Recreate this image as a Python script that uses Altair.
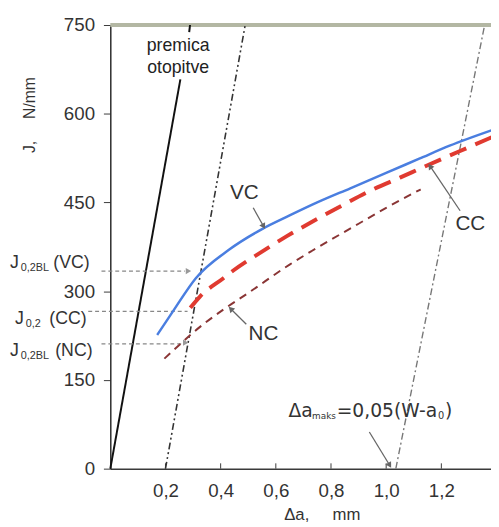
import altair as alt
import pandas as pd

# ---- data ----
vc_da = [0.17, 0.23, 0.31, 0.43, 0.55, 0.65, 0.75, 0.87, 1.00, 1.12, 1.23, 1.382]
vc_j = [226, 268, 322, 370, 405, 428, 450, 474, 500, 524, 546, 572]

cc_da = [0.29, 0.325, 0.41, 0.446, 0.55, 0.64, 0.73, 0.825, 0.957, 1.05, 1.136, 1.268, 1.382]
cc_j = [272, 291, 322, 335, 367, 393, 417, 441, 473, 492, 510, 537, 560]

nc_da = [0.196, 0.25, 0.30, 0.41, 0.50, 0.65, 0.73, 0.90, 1.00, 1.125]
nc_j = [186, 209, 230, 269, 297, 345, 368, 414, 441, 472]

blunt_da = [0.0, 0.254]
blunt_j = [0, 658]
blunt_top_da = [0.286, 0.289]
blunt_top_j = [738, 750]

excl_da = [0.2, 0.489]
excl_j = [0, 750]

max_da = [1.035, 1.357]
max_j = [0, 750]

x_ticks = [0.2, 0.4, 0.6, 0.8, 1.0, 1.2]
y_ticks = [0, 150, 300, 450, 600, 750]

FONT = "Liberation Sans"
WIDE = "DejaVu Sans"
NB = "\u00a0"

X = alt.X("x:Q", scale=alt.Scale(domain=[0, 1.38], nice=False, zero=False),
          axis=alt.Axis(values=x_ticks, grid=False, ticks=False, domainColor="#3a3a3a", domainWidth=1.5,
                        labelExpr="replace(format(datum.value, '.1f'), '.', ',')",
                        labelFont=FONT, labelFontSize=19, labelColor="#333333", labelPadding=13,
                        title="Δa," + NB * 5 + "mm", titleFont=FONT, titleFontSize=17, titleFontWeight="normal",
                        titleColor="#333333", titleX=215, titleY=47, titleAnchor="middle",
                        titleAlign="center", titleBaseline="middle"))
Y = alt.Y("y:Q", scale=alt.Scale(domain=[0, 750], nice=False),
          axis=alt.Axis(values=y_ticks, grid=False, tickSize=7, tickColor="#3a3a3a", domainColor="#2a2a2a",
                        domainWidth=1.5, labelFont=FONT, labelFontSize=19, labelColor="#333333",
                        labelPadding=9, title="J," + NB * 5 + "N/mm", titleFont=FONT, titleFontSize=16,
                        titleFontWeight="normal", titleColor="#333333", titleAngle=-90,
                        titleX=-82, titleY=91, titleAlign="center", titleBaseline="middle"))


def df(xs, ys):
    return pd.DataFrame({"x": xs, "y": ys})


def line(xs, ys, **kw):
    return alt.Chart(df(xs, ys)).mark_line(**kw).encode(x=X, y=Y)


def text(xv, yv, s, color="#333333", font=FONT, **kw):
    return alt.Chart(df([xv], [yv])).mark_text(font=font, color=color, **kw).encode(
        x=X, y=Y, text=alt.value(s))


def arrow(xs, ys, ang, color="#666666", size=45):
    seg = line(xs, ys, color=color, strokeWidth=1.3)
    head = alt.Chart(df([xs[-1]], [ys[-1]])).mark_point(
        shape="triangle", filled=True, color=color, size=size, angle=ang, opacity=1).encode(x=X, y=Y)
    return seg + head


layers = []

# top border
layers.append(alt.Chart(df([0], [750])).mark_rule(color="#b3b7a3", strokeWidth=4).encode(y=Y))
# inward x ticks
tick_df = pd.DataFrame({"x": x_ticks, "y": [0] * len(x_ticks), "y2": [9] * len(x_ticks)})
layers.append(alt.Chart(tick_df).mark_rule(color="#3a3a3a", strokeWidth=1).encode(x=X, y=Y, y2="y2:Q"))

# construction lines
layers.append(line(blunt_da, blunt_j, color="#111111", strokeWidth=2))
layers.append(line(blunt_top_da, blunt_top_j, color="#111111", strokeWidth=2))
layers.append(line(excl_da, excl_j, color="#333333", strokeWidth=1.6, strokeDash=[7, 3, 2, 3, 2, 3]))
layers.append(line(max_da, max_j, color="#777777", strokeWidth=1.4, strokeDash=[7, 3, 2, 3]))

# leader lines from J labels
layers.append(line([-0.032, 0.27], [334, 334], color="#888888", strokeWidth=1.2, strokeDash=[4, 3]))
layers.append(line([-0.08, 0.28], [266, 266], color="#888888", strokeWidth=1.2, strokeDash=[4, 3]))
layers.append(line([-0.032, 0.26], [211, 211], color="#888888", strokeWidth=1.2, strokeDash=[4, 3]))
layers.append(alt.Chart(df([0.28, 0.27], [334, 213])).mark_point(
    shape="triangle", filled=True, color="#999999", size=40, angle=90, opacity=1).encode(x=X, y=Y))

# curves
layers.append(line(nc_da, nc_j, color="#8a3535", strokeWidth=2, strokeDash=[8, 6], interpolate="monotone"))
layers.append(line(cc_da, cc_j, color="#e03a30", strokeWidth=4, strokeDash=[18, 10], interpolate="monotone"))
layers.append(line(vc_da, vc_j, color="#4a7ee0", strokeWidth=2.5, interpolate="monotone"))

# labels
layers.append(text(0.246, 715, "premica", fontSize=18, align="center", baseline="middle", color="#222222"))
layers.append(text(0.246, 677, "otopitve", fontSize=18, align="center", baseline="middle", color="#222222"))
layers.append(text(0.486, 466, "VC", fontSize=21, align="center", baseline="middle"))
layers.append(text(1.305, 414, "CC", fontSize=21, align="center", baseline="middle"))
layers.append(text(0.555, 228, "NC", fontSize=21, align="center", baseline="middle"))

# J labels left of the axis (J + subscript + suffix)
for yv, sub, suf, dxs in [(348, "0,2BL", "(VC)", (-102, -91, -58)),
                          (253, "0,2", "(CC)", (-97, -86, -62)),
                          (198, "0,2BL", "(NC)", (-102, -91, -56))]:
    layers.append(text(0.0, yv, "J", fontSize=18, align="left", baseline="middle", dx=dxs[0]))
    layers.append(text(0.0, yv, sub, fontSize=11, align="left", baseline="middle", dx=dxs[1], dy=5))
    layers.append(text(0.0, yv, suf, fontSize=18, align="left", baseline="middle", dx=dxs[2]))

# delta a max annotation
for s, size, dxv, dyv in [("Δa", 19, 0, 0), ("maks", 9, 24, 5), ("=0,05(W-a", 19, 49, 0),
                          ("0", 10, 152, 5), (")", 19, 159, 0)]:
    layers.append(text(0.646, 98, s, font=WIDE, fontSize=size, align="left", baseline="middle",
                       dx=dxv, dy=dyv))

# arrows
layers.append(arrow([0.518, 0.554], [441, 411], 151))
layers.append(arrow([1.268, 1.161], [436, 510], 326))
layers.append(arrow([0.493, 0.439], [244, 269], 315))
layers.append(arrow([0.939, 1.011], [62, 7], 149))

chart = alt.layer(*layers).properties(
    width=387, height=451,
    autosize=alt.AutoSizeParams(type="none"),
    padding={"left": 104, "top": 13, "right": 0, "bottom": 54},
    background="white",
).configure_view(stroke=None)

chart.save("out.html", embed_options={"renderer": "svg", "actions": False})
